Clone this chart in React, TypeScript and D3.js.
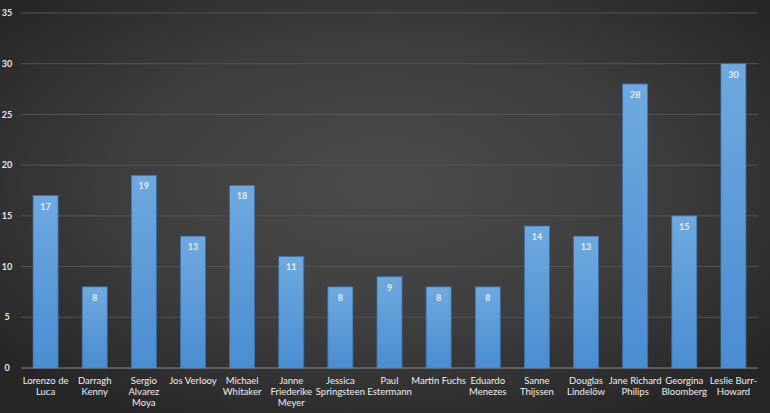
import React from "react";
import * as d3 from "d3";

const categories: string[][] = [
  ["Lorenzo de", "Luca"],
  ["Darragh", "Kenny"],
  ["Sergio", "Alvarez", "Moya"],
  ["Jos Verlooy"],
  ["Michael", "Whitaker"],
  ["Janne", "Friederike", "Meyer"],
  ["Jessica", "Springsteen"],
  ["Paul", "Estermann"],
  ["Martin Fuchs"],
  ["Eduardo", "Menezes"],
  ["Sanne", "Thijssen"],
  ["Douglas", "Lindelöw"],
  ["Jane Richard", "Philips"],
  ["Georgina", "Bloomberg"],
  ["Leslie Burr-", "Howard"],
];
const values: number[] = [17, 8, 19, 13, 18, 11, 8, 9, 8, 8, 14, 13, 28, 15, 30];
const yTicks: number[] = [0, 5, 10, 15, 20, 25, 30, 35];

const W = 770;
const H = 413;
const left = 21;
const right = 758;
const top = 13;
const bottom = 368;

export default function App() {
  const x = d3
    .scaleBand<number>()
    .domain(values.map((_, i) => i))
    .range([left, right])
    .paddingInner(0.49)
    .paddingOuter(0.245);
  const y = d3.scaleLinear().domain([0, 35]).range([bottom, top]);
  const font = "Lato, 'Open Sans', sans-serif";

  return (
    <svg
      width={W}
      height={H}
      style={{ position: "absolute", left: 0, top: 0, display: "block" }}
    >
      <defs>
        <radialGradient id="bg" cx="50%" cy="45%" r="65%">
          <stop offset="0%" stopColor="#4b4b4b" />
          <stop offset="55%" stopColor="#3d3d3d" />
          <stop offset="100%" stopColor="#262626" />
        </radialGradient>
        <linearGradient id="bar" x1="0" y1="0" x2="0" y2="1">
          <stop offset="0%" stopColor="#6fa9df" />
          <stop offset="100%" stopColor="#4a8dd2" />
        </linearGradient>
      </defs>
      <rect x={0} y={0} width={W} height={H} fill="url(#bg)" />
      {yTicks.map((t) => (
        <g key={t}>
          {t !== 0 && (
            <line
              x1={left}
              x2={right}
              y1={y(t)}
              y2={y(t)}
              stroke="#555555"
              strokeWidth={1}
            />
          )}
          <text
            x={7}
            y={y(t)}
            dy="0.35em"
            fill="#e8e8e8"
            fontSize={9}
            fontWeight={700}
            textAnchor="middle"
            fontFamily={font}
          >
            {t}
          </text>
        </g>
      ))}
      {values.map((v, i) => {
        const bx = x(i)!;
        const bw = x.bandwidth();
        return (
          <g key={i}>
            <rect
              x={bx}
              y={y(v)}
              width={bw}
              height={y(0) - y(v)}
              fill="url(#bar)"
              stroke="#3a6fa6"
              strokeWidth={0.8}
            />
            <text
              x={bx + bw / 2}
              y={y(v) + 14}
              fill="#e4eef8"
              fontSize={9}
              fontWeight={700}
              textAnchor="middle"
              fontFamily={font}
            >
              {v}
            </text>
            {categories[i].map((line, j) => (
              <text
                key={j}
                x={bx + bw / 2}
                y={384 + j * 11}
                fill="#f0f0f0"
                fontSize={9.5}
                textAnchor="middle"
                fontFamily={font}
              >
                {line}
              </text>
            ))}
          </g>
        );
      })}
      <line
        x1={left}
        x2={right}
        y1={y(0)}
        y2={y(0)}
        stroke="#8a8a8a"
        strokeWidth={1.2}
      />
    </svg>
  );
}
